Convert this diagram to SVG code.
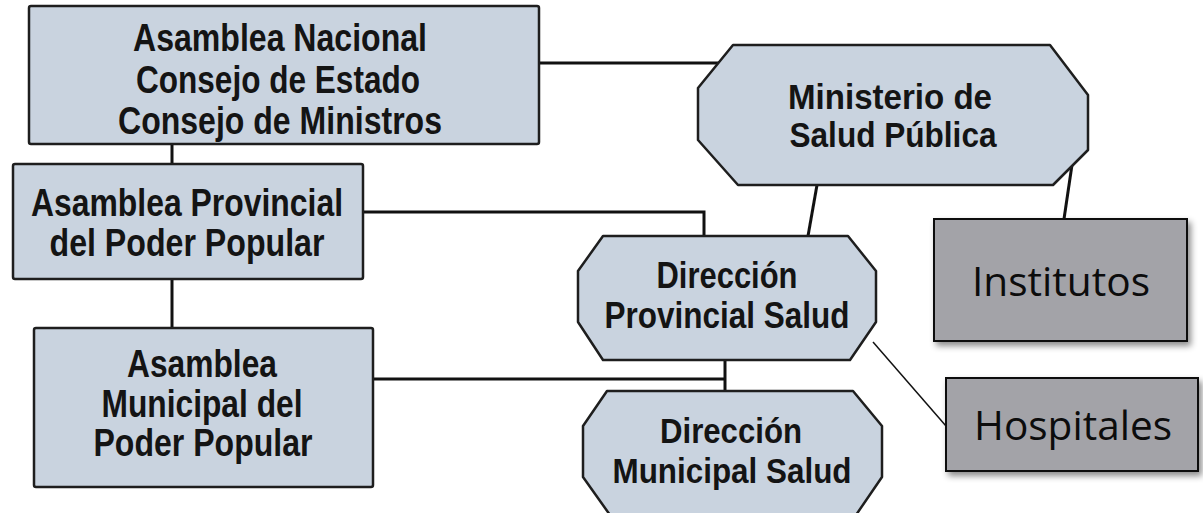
<svg xmlns="http://www.w3.org/2000/svg" width="1203" height="513" viewBox="0 0 1203 513">
  <defs>
    <filter id="shadow" x="-10%" y="-10%" width="130%" height="140%">
      <feDropShadow dx="3" dy="4" stdDeviation="3" flood-color="#000" flood-opacity="0.45"/>
    </filter>
    <style>
      .blue { fill: #c9d3df; stroke: #1e1e1e; stroke-width: 2.5; stroke-linejoin: round; }
      .gray { fill: #a3a3a8; stroke: #111; stroke-width: 2; }
      .lbl { font-family: "Liberation Sans", Arial, sans-serif; font-weight: bold; fill: #141414; text-anchor: middle; }
      .lbl2 { font-family: "Open Sans", "Liberation Sans", sans-serif; fill: #0c0c0c; text-anchor: middle; }
      .conn { stroke: #111; stroke-width: 3; fill: none; }
      .thin { stroke: #111; stroke-width: 1.5; fill: none; }
    </style>
  </defs>
  <rect width="1203" height="513" fill="#ffffff"/>

  <g id="connectors">
    <path class="conn" d="M539,63 H722"/>
    <path class="conn" d="M172,145 V164"/>
    <path class="conn" d="M172,279 V328"/>
    <path class="conn" d="M363,212 H704 V236"/>
    <path class="conn" d="M373,379 H725"/>
    <path class="conn" d="M725,360 V391"/>
    <path class="conn" d="M817,185 L808,236"/>
    <path class="conn" d="M1073,158 L1064,219"/>
    <path class="thin" d="M873,342 L946,426"/>
  </g>

  <g id="node-asamblea-nacional">
    <rect class="blue" x="29" y="6" width="510" height="138" rx="2"/>
    <text class="lbl" font-size="38" x="280" y="51" textLength="294" lengthAdjust="spacingAndGlyphs">Asamblea Nacional</text>
    <text class="lbl" font-size="38" x="278" y="93" textLength="284" lengthAdjust="spacingAndGlyphs">Consejo de Estado</text>
    <text class="lbl" font-size="38" x="280" y="134" textLength="324" lengthAdjust="spacingAndGlyphs">Consejo de Ministros</text>
  </g>

  <g id="node-asamblea-provincial">
    <rect class="blue" x="13" y="164" width="350" height="115" rx="2"/>
    <text class="lbl" font-size="38" x="187" y="216" textLength="312" lengthAdjust="spacingAndGlyphs">Asamblea Provincial</text>
    <text class="lbl" font-size="38" x="187" y="256" textLength="275" lengthAdjust="spacingAndGlyphs">del Poder Popular</text>
  </g>

  <g id="node-asamblea-municipal">
    <rect class="blue" x="34" y="328" width="339" height="159" rx="2"/>
    <text class="lbl" font-size="38" x="202" y="377" textLength="150" lengthAdjust="spacingAndGlyphs">Asamblea</text>
    <text class="lbl" font-size="38" x="202" y="417" textLength="201" lengthAdjust="spacingAndGlyphs">Municipal del</text>
    <text class="lbl" font-size="38" x="203" y="456" textLength="219" lengthAdjust="spacingAndGlyphs">Poder Popular</text>
  </g>

  <g id="node-ministerio">
    <polygon class="blue" points="733,45 1050,45 1088,95 1088,150 1053,185 738,185 698,140 698,88"/>
    <text class="lbl" font-size="35" x="890" y="109" textLength="204" lengthAdjust="spacingAndGlyphs">Ministerio de</text>
    <text class="lbl" font-size="35" x="893" y="147" textLength="207" lengthAdjust="spacingAndGlyphs">Salud Pública</text>
  </g>

  <g id="node-direccion-provincial">
    <polygon class="blue" points="603,236 848,236 876,271 876,322 850,360 603,360 578,322 578,271"/>
    <text class="lbl" font-size="37" x="727" y="288" textLength="141" lengthAdjust="spacingAndGlyphs">Dirección</text>
    <text class="lbl" font-size="37" x="727" y="328" textLength="245" lengthAdjust="spacingAndGlyphs">Provincial Salud</text>
  </g>

  <g id="node-direccion-municipal">
    <polygon class="blue" points="607,391 853,391 882,426 882,477 856,515 610,515 583,477 583,426"/>
    <text class="lbl" font-size="35" x="731" y="443" textLength="142" lengthAdjust="spacingAndGlyphs">Dirección</text>
    <text class="lbl" font-size="35" x="732" y="483" textLength="239" lengthAdjust="spacingAndGlyphs">Municipal Salud</text>
  </g>

  <g id="node-institutos">
    <rect class="gray" x="934" y="219" width="253" height="122" filter="url(#shadow)"/>
    <text class="lbl2" font-size="40" x="1061" y="296" textLength="178" lengthAdjust="spacingAndGlyphs">Institutos</text>
  </g>

  <g id="node-hospitales">
    <rect class="gray" x="946" y="378" width="252" height="93" filter="url(#shadow)"/>
    <text class="lbl2" font-size="40" x="1073" y="440" textLength="198" lengthAdjust="spacingAndGlyphs">Hospitales</text>
  </g>
</svg>
